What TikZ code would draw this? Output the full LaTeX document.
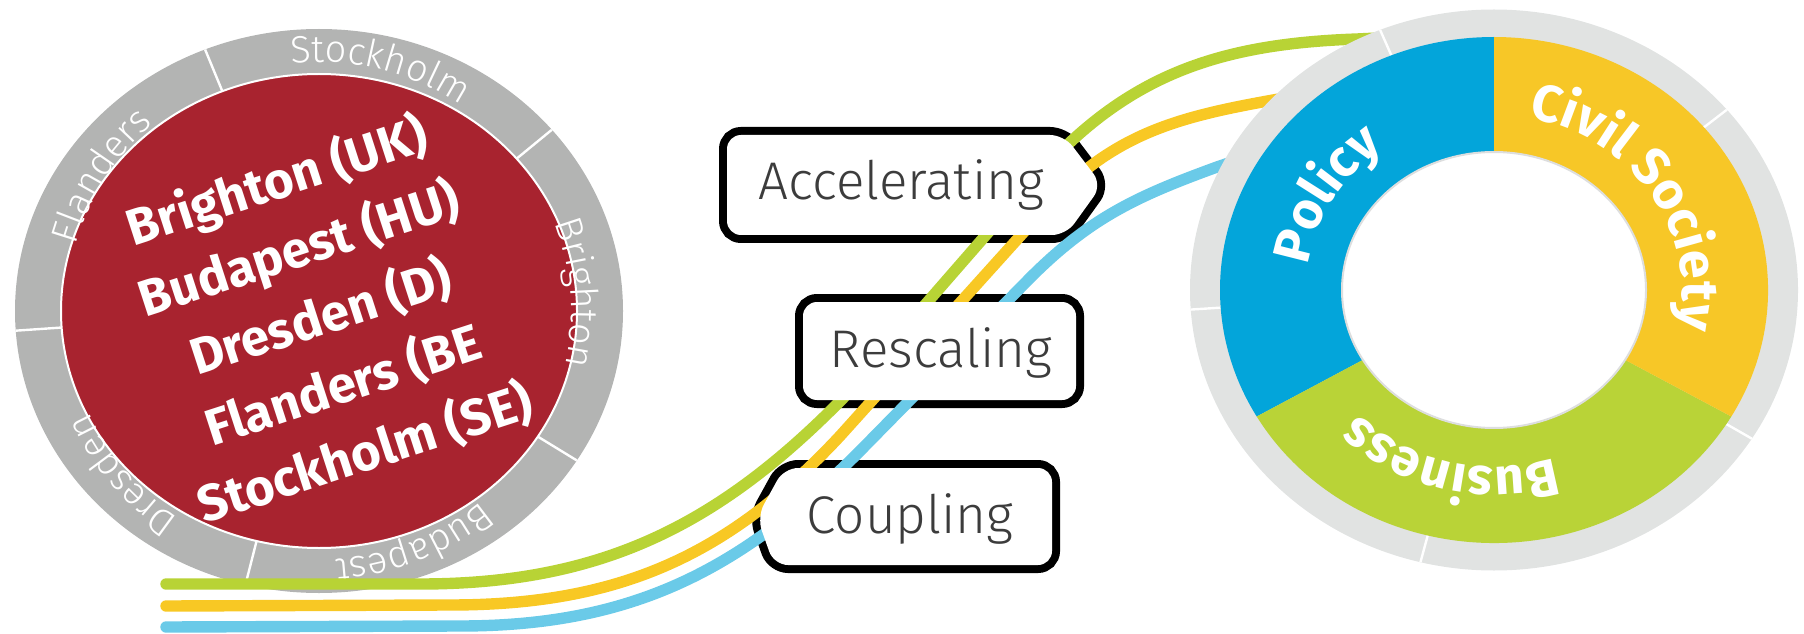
\documentclass[tikz,border=0pt]{standalone}
\usepackage{fontspec}
\newfontfamily\lightfont{Fira Sans Light}
\newfontfamily\firasans{Fira Sans}
\usetikzlibrary{decorations.text}
\definecolor{cred}{HTML}{A8232F}
\definecolor{cgray}{HTML}{B3B4B3}
\definecolor{dgray}{HTML}{E1E3E2}
\definecolor{pblue}{HTML}{03A5DA}
\definecolor{pyellow}{HTML}{F7C727}
\definecolor{pgreen}{HTML}{B9D337}
\definecolor{lgreen}{HTML}{B8D335}
\definecolor{lyellow}{HTML}{F8C824}
\definecolor{lblue}{HTML}{6ACAE8}
\definecolor{boxtext}{HTML}{3C3C3C}
\definecolor{holeline}{HTML}{DDDEDE}
\newcommand\ringfont{\lightfont\fontsize{19}{20}\selectfont\color{white}}
\newcommand\donutfont{\firasans\bfseries\fontsize{26}{28}\selectfont\color{white}}
\tikzset{
 ringlabel/.style={decorate, decoration={text along path, text align=center, text={|\ringfont|#1}}},
 donutlabel/.style={decorate, decoration={text along path, text align=center, text={|\donutfont|#1}}},
 boxborder/.style={draw=black, line width=8pt, rounded corners=7pt},
 boxfill/.style={fill=white, rounded corners=7pt},
 boxlabel/.style={font=\lightfont\fontsize{26.5}{28}\selectfont, text=boxtext, inner sep=0pt, anchor=base},
 flowline/.style={line width=5.7pt, line cap=round},
 citytext/.style={font=\firasans\bfseries\fontsize{25.5}{35.75}\selectfont, text=white, align=center, rotate=18},
 divider/.style={white, line width=1.2pt},
}
\begin{document}
\begin{tikzpicture}[x=0.5pt,y=0.5pt]
\useasboundingbox (0,0) rectangle (1804,633);

% ---------- left circle ----------
\begin{scope}[shift={(319,322)}]
  \fill[cgray] (0,0) ellipse [x radius=304, y radius=282];
  \foreach \a in {40,112,184,256,328}
    \draw[divider] (\a:258 and 237) -- (\a:304 and 282);
  \fill[cred] (0,0) ellipse [x radius=258, y radius=237];
  \draw[white, line width=1pt] (0,0) ellipse [x radius=258, y radius=237];
  \path[ringlabel=Stockholm] (112:252 and 249) arc[start angle=112, end angle=40, x radius=252, y radius=249];
  \path[ringlabel=Brighton] (40:252 and 249) arc[start angle=40, end angle=-32, x radius=252, y radius=249];
  \path[ringlabel=Budapest] (-32:252 and 249) arc[start angle=-32, end angle=-104, x radius=252, y radius=249];
  \path[ringlabel=Dresden] (256:252 and 249) arc[start angle=256, end angle=184, x radius=252, y radius=249];
  \path[ringlabel=Flanders] (184:252 and 249) arc[start angle=184, end angle=112, x radius=252, y radius=249];
\end{scope}
\node[citytext] (cities) at (321,316) {Brighton (UK)\\Budapest (HU)\\Dresden (D)\\Flanders (BE\\Stockholm (SE)};

% ---------- box outlines ----------
\coordinate (a1) at (727,498); \coordinate (a2) at (1064,498); \coordinate (a3) at (1102,448);
\coordinate (a4) at (1066,398); \coordinate (a5) at (727,398);
\coordinate (r1) at (803,331); \coordinate (r2) at (1076,331); \coordinate (r3) at (1076,233); \coordinate (r4) at (803,233);
\coordinate (c1) at (784,165); \coordinate (c2) at (1052,165); \coordinate (c3) at (1052,68);
\coordinate (c4) at (774,68); \coordinate (c5) at (757,116);
\draw[boxborder] (a1) -- (a2) -- (a3) -- (a4) -- (a5) -- cycle;
\draw[boxborder] (r1) -- (r2) -- (r3) -- (r4) -- cycle;
\draw[boxborder] (c1) -- (c2) -- (c3) -- (c4) -- (c5) -- cycle;

% ---------- flow lines ----------
\coordinate (gs) at (166,49); \coordinate (ge) at (1420,597);
\coordinate (ys) at (166,27); \coordinate (ye) at (1340,543);
\coordinate (bs) at (166,6);  \coordinate (be) at (1278,487);
\draw[flowline, lgreen] (gs) -- (420,49) to[out=0, in=226] (850,242) -- (1040,460) to[out=48, in=182] (1357,594) -- (ge);
\draw[flowline, lyellow] (ys) -- (450,28) to[out=0, in=227] (840,197) -- (1050,430) to[out=47, in=190] (1290,536) -- (ye);
\draw[flowline, lblue] (bs) -- (460,7) to[out=0, in=225] (860,182) -- (1030,355) to[out=45, in=200] (1217,466) -- (be);

% ---------- box fills and labels ----------
\fill[boxfill] (a1) -- (a2) -- (a3) -- (a4) -- (a5) -- cycle;
\fill[boxfill] (r1) -- (r2) -- (r3) -- (r4) -- cycle;
\fill[boxfill] (c1) -- (c2) -- (c3) -- (c4) -- (c5) -- cycle;
\node[boxlabel] (acc) at (901,433) {Accelerating};
\node[boxlabel] (resc) at (941,266) {Rescaling};
\node[boxlabel] (coup) at (910,100) {Coupling};

% ---------- donut ----------
\begin{scope}[shift={(1494,343)}]
  \fill[dgray] (0,0) ellipse [x radius=304, y radius=280.5];
  \foreach \a in {40,112,184,256,328}
    \draw[divider] (\a:274 and 253) -- (\a:304 and 280.5);
  \fill[pblue] (0,0) -- (90:274 and 253) arc[start angle=90, end angle=210, x radius=274, y radius=253] -- cycle;
  \fill[pgreen] (0,0) -- (210:274 and 253) arc[start angle=210, end angle=330, x radius=274, y radius=253] -- cycle;
  \fill[pyellow] (0,0) -- (330:274 and 253) arc[start angle=330, end angle=450, x radius=274, y radius=253] -- cycle;
  \fill[white] (0,0) ellipse [x radius=152, y radius=138];
  \draw[holeline, line width=1pt] (0,0) ellipse [x radius=152, y radius=138];
  \path[donutlabel=Policy] (210:188 and 175) arc[start angle=210, end angle=90, x radius=188, y radius=175];
  \path[donutlabel=Civil Society] (97:188 and 175) arc[start angle=97, end angle=-31, x radius=188, y radius=175];
  \path[donutlabel=Business] (316:190 and 177) arc[start angle=316, end angle=196, x radius=190, y radius=177];
\end{scope}
\end{tikzpicture}
\end{document}
